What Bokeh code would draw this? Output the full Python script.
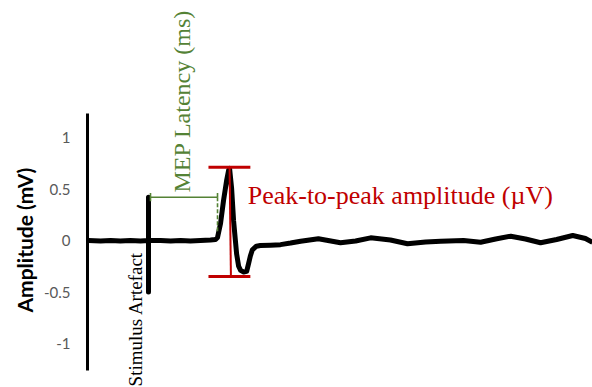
from bokeh.plotting import figure
from bokeh.models import Range1d, FixedTicker, Title
from bokeh.core.properties import value
from bokeh.embed import file_html
from bokeh.resources import INLINE

# EMG trace: time (ms, stimulus at 0) and amplitude (mV)
time_ms = [-17.9, -14.3, -11.3, -8.4, -5.4, -2.4, 0.0, 0.0, 0.0, 0.0,
           3.6, 6.6, 9.6, 12.5, 15.5, 18.5, 20.0, 20.6, 21.5, 22.4,
           23.3, 23.9, 24.2, 24.8, 25.4, 26.3, 26.9, 27.5, 28.4, 29.3,
           29.9, 30.4, 31.0, 32.2, 33.4, 36.4, 39.4, 42.4, 45.4, 50.7,
           57.3, 61.8, 66.3, 72.2, 77.3, 82.7, 87.2, 94.0, 99.1, 103.6,
           108.1, 112.5, 117.0, 121.8, 126.6, 130.4, 132.5]
amp_mv = [0.0, -0.005, 0.0, -0.005, 0.0, -0.005, 0.0, 0.42, -0.50, 0.0,
          0.0, -0.005, 0.0, -0.005, 0.0, 0.005, 0.01, 0.03, 0.165, 0.39,
          0.58, 0.68, 0.70, 0.51, 0.19, -0.13, -0.25, -0.29, -0.305, -0.30,
          -0.22, -0.15, -0.09, -0.055, -0.048, -0.045, -0.04, -0.025, -0.007, 0.017,
          -0.022, -0.005, 0.026, 0.005, -0.032, -0.015, -0.007, 0.0, -0.017, 0.015,
          0.042, 0.015, -0.022, 0.01, 0.049, 0.02, -0.017]

# Annotation values
latency_start_ms = 0.6
latency_end_ms = 20.6
latency_level_mv = 0.42
amp_top_mv = 0.71
amp_bottom_mv = -0.35
amp_bar_x = [17.9, 30.4]
amp_line_x = [24.2, 24.6]

y_ticks = [-1, -0.5, 0, 0.5, 1]
y_tick_labels = ["-1", "-0.5", "0", "0.5", "1"]

p = figure(width=592, height=387, output_backend="svg", toolbar_location=None,
           x_range=Range1d(-18.2, 132.5), y_range=Range1d(-1.427, 2.330),
           x_axis_location=None,
           min_border_left=87, min_border_right=0, min_border_top=0, min_border_bottom=0)
p.outline_line_color = None
p.grid.visible = False
p.background_fill_color = "white"
p.border_fill_color = "white"

ax = p.yaxis[0]
ax.bounds = (-1.262, 1.233)
ax.ticker = FixedTicker(ticks=y_ticks)
ax.major_label_overrides = {t: s for t, s in zip(y_ticks, y_tick_labels)}
ax.axis_line_width = 3
ax.axis_line_color = "black"
ax.major_tick_line_color = None
ax.minor_tick_line_color = None
ax.major_tick_out = 0
ax.major_tick_in = 0
ax.major_label_standoff = 17
ax.major_label_text_font = "Lato"
ax.major_label_text_font_size = "15px"
ax.major_label_text_color = "#595959"

# Y-axis title, placed along the axis line rather than the whole frame
p.add_layout(Title(text="Amplitude (mV)", align="left", offset=75,
                   text_font="Lato", text_font_style="bold", text_font_size="21px",
                   text_color="black", standoff=8), "left")

# Trace
p.line(time_ms, amp_mv, line_color="black", line_width=5, line_join="round")

# Latency marker
green = "#548235"
p.line([latency_start_ms, latency_end_ms], [latency_level_mv, latency_level_mv],
       line_color=green, line_width=1.6)
p.line([latency_start_ms, latency_start_ms], [latency_level_mv - 0.04, latency_level_mv + 0.04],
       line_color=green, line_width=1.6)
p.line([latency_end_ms, latency_end_ms], [latency_level_mv, latency_level_mv + 0.04],
       line_color=green, line_width=1.6)
p.line([latency_end_ms, latency_end_ms], [latency_level_mv, 0.07],
       line_color=green, line_width=1.6, line_dash="4 2")

# Peak-to-peak marker
red = "#C00000"
p.line(amp_bar_x, [amp_top_mv, amp_top_mv], line_color=red, line_width=3)
p.line(amp_bar_x, [amp_bottom_mv, amp_bottom_mv], line_color=red, line_width=3)
p.line(amp_line_x, [amp_top_mv, amp_bottom_mv], line_color=red, line_width=2)

# Text labels
p.text(x=[9.9], y=[0.466], text=["MEP Latency (ms)"], angle=1.5708,
       text_align="left", text_baseline="middle", text_color=green,
       text_font=value("Liberation Serif"), text_font_size="24px")
p.text(x=[29.6], y=[0.44], text=["Peak-to-peak amplitude (µV)"],
       text_align="left", text_baseline="alphabetic", text_color=red,
       text_font=value("Liberation Serif"), text_font_size="26px")
p.text(x=[-3.9], y=[-0.11], text=["Stimulus Artefact"], angle=1.5708,
       text_align="right", text_baseline="middle", text_color="black",
       text_font=value("Liberation Serif"), text_font_size="19px")

open("out.html", "w").write(file_html(p, INLINE))
